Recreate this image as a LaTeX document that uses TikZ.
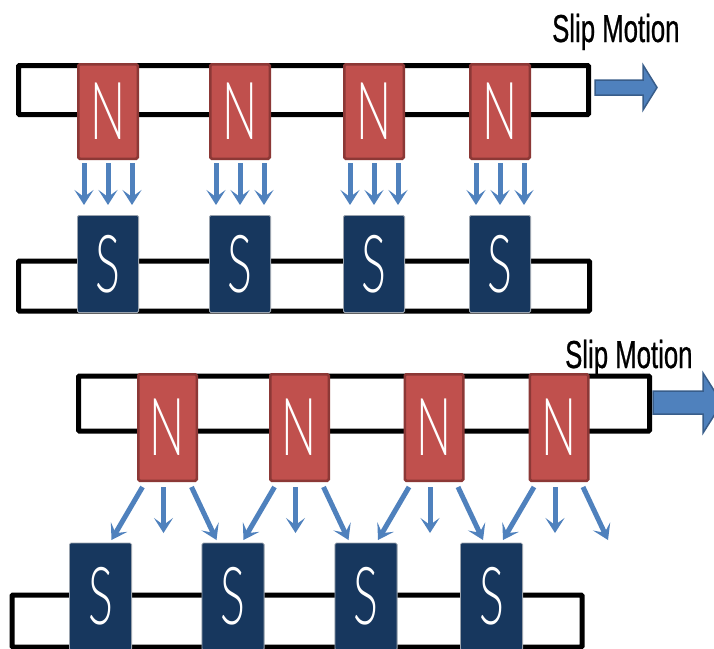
\documentclass[tikz,border=0pt]{standalone}
\usepackage{fontspec}
\usetikzlibrary{arrows.meta,calc}
\newfontfamily\magfont[FakeStretch=0.58]{Lato Light}
\newfontfamily\slipfont[FakeStretch=0.66,FakeBold=0.6]{Liberation Sans}
\definecolor{northred}{HTML}{C0504D}
\definecolor{northedge}{HTML}{8C3836}
\definecolor{southblue}{HTML}{17375E}
\definecolor{southedge}{HTML}{9AA3AE}
\definecolor{fluxblue}{HTML}{4F81BD}
\definecolor{slipedge}{HTML}{385D8A}

\begin{document}
\begin{tikzpicture}[x=1pt,y=-1pt,
  rail/.style={draw=black, line width=5pt, fill=white, rounded corners=1pt, inner sep=0pt},
  northpole/.style={fill=northred, draw=northedge, line width=2.5pt, rounded corners=1.5pt,
    inner sep=0pt, text=white, font=\magfont\fontsize{80}{80}\selectfont},
  southpole/.style={fill=southblue, draw=southedge, line width=0.8pt, rounded corners=1.5pt,
    inner sep=0pt, text=white, font=\magfont\fontsize{80}{80}\selectfont},
  flux/.style={draw=fluxblue, line width=5pt,
    -{Stealth[length=15pt,width=19pt,inset=7pt]}},
  slipshape/.style={fill=fluxblue, draw=slipedge, line width=1.5pt, line join=miter},
  sliplabel/.style={anchor=base west, inner sep=0pt, font=\slipfont\fontsize{39}{39}\selectfont}
]
\clip (0,0) rectangle (714,648);
\fill[white] (0,0) rectangle (714,648);

% ---------- upper pair: magnets aligned ----------
\node[rail, minimum width=570pt, minimum height=49pt] (railA) at (303.5,90) {};
\node[rail, minimum width=571pt, minimum height=50pt] (railB) at (304,286) {};

\foreach \i/\x in {1/108, 2/240, 3/374, 4/500}{
  \node[northpole, minimum width=59.5pt, minimum height=94.5pt] (nA\i) at (\x,111.5) {N};
  \node[southpole, minimum width=61.2pt, minimum height=97.2pt] (sA\i) at (\x,264) {S};
  \foreach \d in {-24,0,24}{
    \draw[flux, shorten <=3pt, shorten >=10pt]
      ([xshift=\d pt]nA\i.south) -- ([xshift=\d pt]sA\i.north);
  }
}

% slip arrow and label
\path[slipshape] (595,80) -- (643,80) -- (643,65) -- (657,87.5) -- (643,110) -- (643,95) -- (595,95) -- cycle;
\node[sliplabel] (slipA) at (552,42) {Slip Motion};

% ---------- lower pair: magnets offset ----------
\node[rail, minimum width=571pt, minimum height=55pt] (railC) at (364,403.5) {};
\node[rail, minimum width=570pt, minimum height=52pt] (railD) at (297,621) {};

\foreach \i/\x in {1/100.5, 2/233, 3/366, 4/491.5}{
  \node[southpole, minimum width=62.2pt, minimum height=107pt] (sB\i) at (\x,596.5) {S};
}
\foreach \i/\x in {1/167.5, 2/299.5, 3/434, 4/559}{
  \node[northpole, minimum width=58.5pt, minimum height=106.5pt] (nB\i) at (\x,427.5) {N};
  \draw[flux] ($(nB\i.south)+(-25,5)$) -- ($(nB\i.south)+(-56,58)$);
  \draw[flux] ($(nB\i.south)+(-4,5)$) -- ($(nB\i.south)+(-4,51)$);
  \draw[flux] ($(nB\i.south)+(24,5)$) -- ($(nB\i.south)+(49,58)$);
}

\path[slipshape] (653,391) -- (703,391) -- (703,373) -- (722,403) -- (703,433) -- (703,414) -- (653,414) -- cycle;
\node[sliplabel] (slipB) at (565,368) {Slip Motion};
\end{tikzpicture}
\end{document}
